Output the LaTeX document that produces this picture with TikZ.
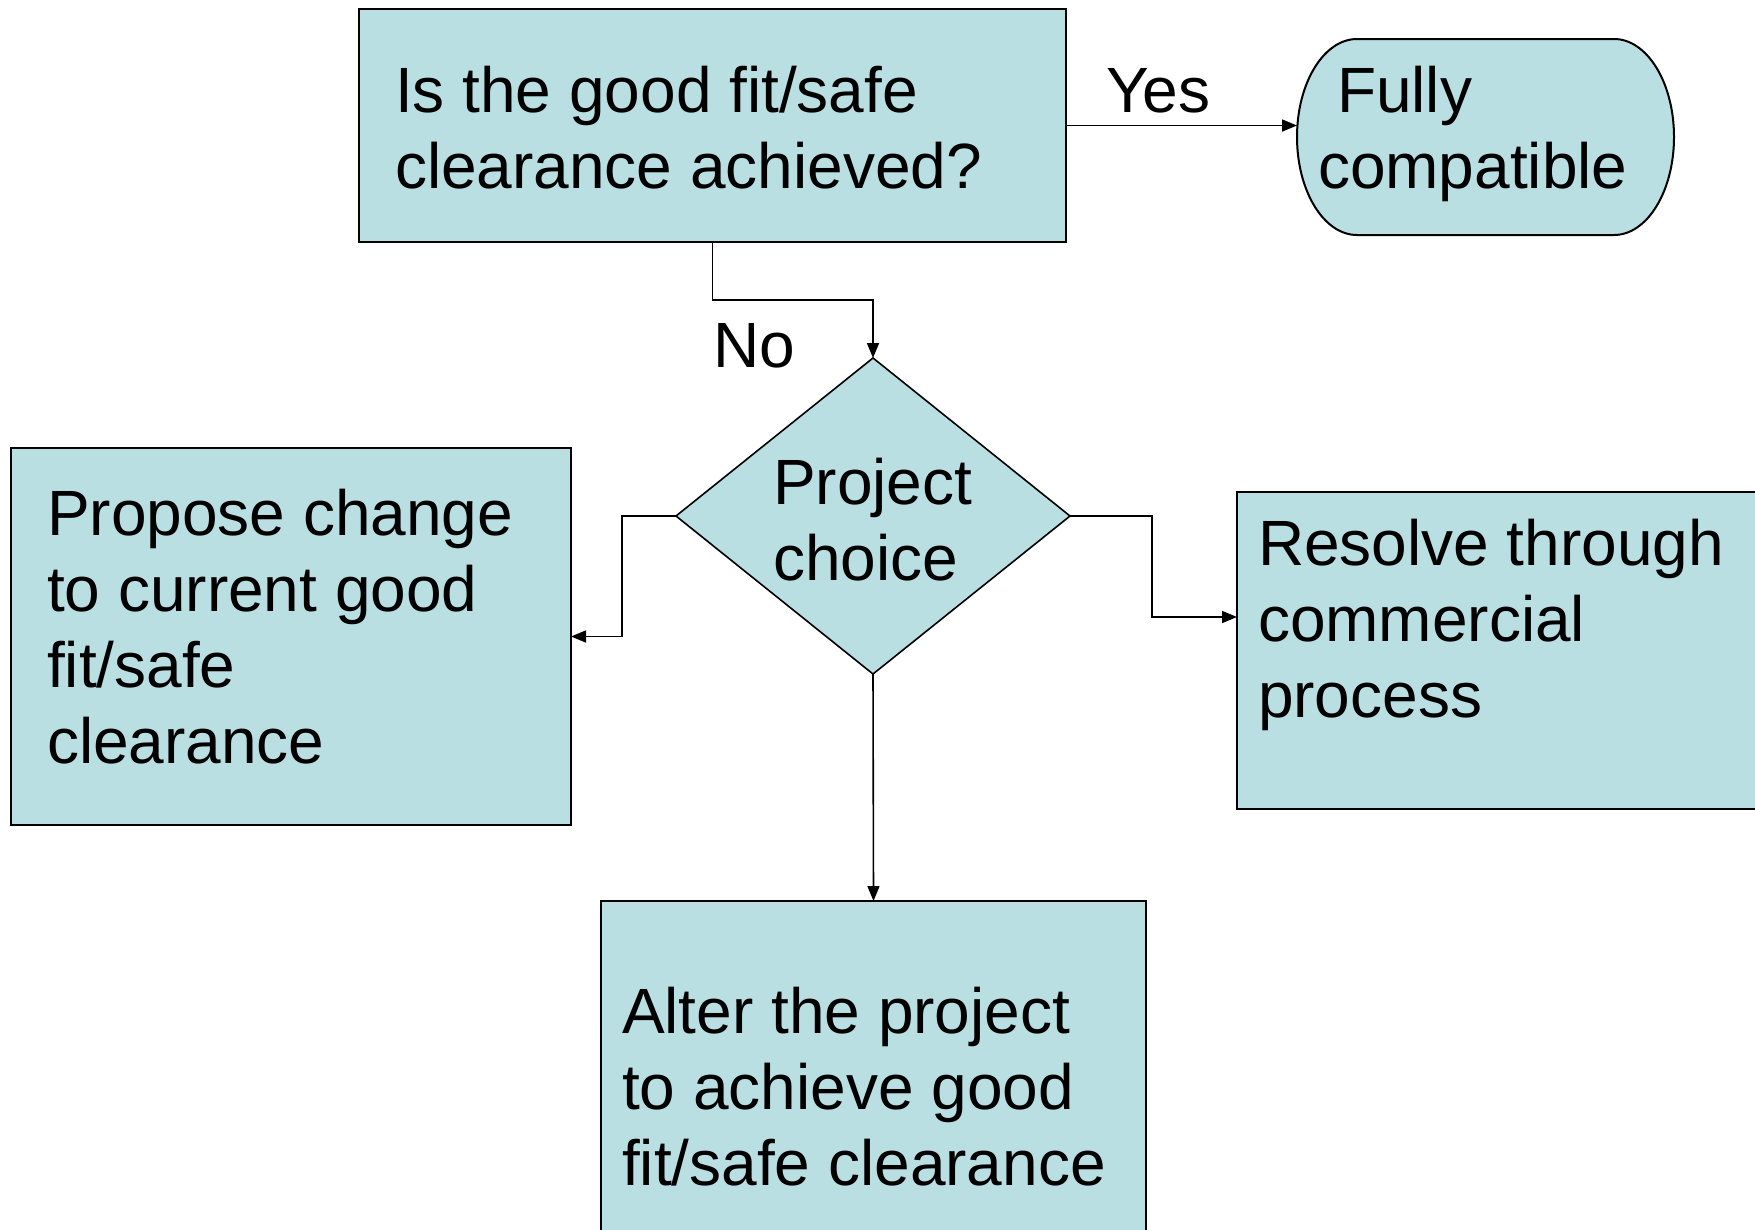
\documentclass[tikz,border=0pt]{standalone}
\usepackage{fontspec}
\setmainfont{Liberation Sans}
\usetikzlibrary{shapes.geometric,arrows.meta,calc}
\definecolor{boxfill}{RGB}{186,223,227}
\tikzset{
  box/.style={draw=black, fill=boxfill, line width=2pt, rectangle, inner sep=0pt, outer sep=0pt},
  decision/.style={draw=black, fill=boxfill, line width=1.6pt, diamond, inner sep=0pt, outer sep=0pt},
  conn/.style={draw=black, line width=1.6pt, -{Triangle[length=15pt,width=12pt]}},
  txt/.style={anchor=base west, inner sep=0pt, outer sep=0pt, font=\fontsize{64pt}{76pt}\selectfont}
}
\begin{document}
\begin{tikzpicture}[x=1pt,y=-1pt]
\clip (0,0) rectangle (1755,1229);
\fill[white] (0,0) rectangle (1755,1229);

% nodes
\node[box, minimum width=707pt, minimum height=233pt, anchor=north west] (q) at (359,9) {};
\node[box, minimum width=560pt, minimum height=377pt, anchor=north west] (lb) at (11,448) {};
\node[box, minimum width=540pt, minimum height=317pt, anchor=north west] (rb) at (1237,492) {};
\node[box, minimum width=545pt, minimum height=360pt, anchor=north west] (bb) at (601,901) {};
\node[decision, minimum width=394pt, minimum height=316pt] (d) at (873,516) {};

% terminator "Fully compatible"
\filldraw[fill=boxfill, draw=black, line width=2pt]
  (1357,39) arc[start angle=90, end angle=270, x radius=60pt, y radius=98pt]
  -- (1614,235) arc[start angle=-90, end angle=90, x radius=60pt, y radius=98pt] -- cycle;
\node[inner sep=0pt, outer sep=0pt, minimum width=377pt, minimum height=196pt] (fc) at (1485.5,137) {};

% texts
\node[txt] (t1) at (395,112) {Is the good fit/safe};
\node[txt] (t2) at (395,188) {clearance achieved?};
\node[txt] (yes) at (1106,112) {Yes};
\node[txt] (t3) at (1337,112) {Fully};
\node[txt] (t4) at (1318,188) {compatible};
\node[txt] (no) at (713,367) {No};
\node[txt] (t5) at (773,504) {Project};
\node[txt] (t6) at (773,580) {choice};
\node[txt] (t7) at (47,535) {Propose change};
\node[txt] (t8) at (47,611) {to current good};
\node[txt] (t9) at (47,687) {fit/safe};
\node[txt] (t10) at (47,763) {clearance};
\node[txt] (t11) at (1258,565) {Resolve through};
\node[txt] (t12) at (1258,641) {commercial};
\node[txt] (t13) at (1258,717) {process};
\node[txt] (t14) at (622,1033) {Alter the project};
\node[txt] (t15) at (622,1109) {to achieve good};
\node[txt] (t16) at (622,1185) {fit/safe clearance};

% connectors
\draw[conn] (q.east) -- (q.east -| fc.west);
\draw[conn] (q.south) -- ++(0,58) -| (d.north);
\draw[conn] (d.west) -- ++(-54,0) |- (lb.east);
\draw[conn] (d.east) -- ++(82,0) |- ($(rb.north west)+(0,125)$);
\draw[conn] (d.south) -- (bb.north);
\end{tikzpicture}
\end{document}
